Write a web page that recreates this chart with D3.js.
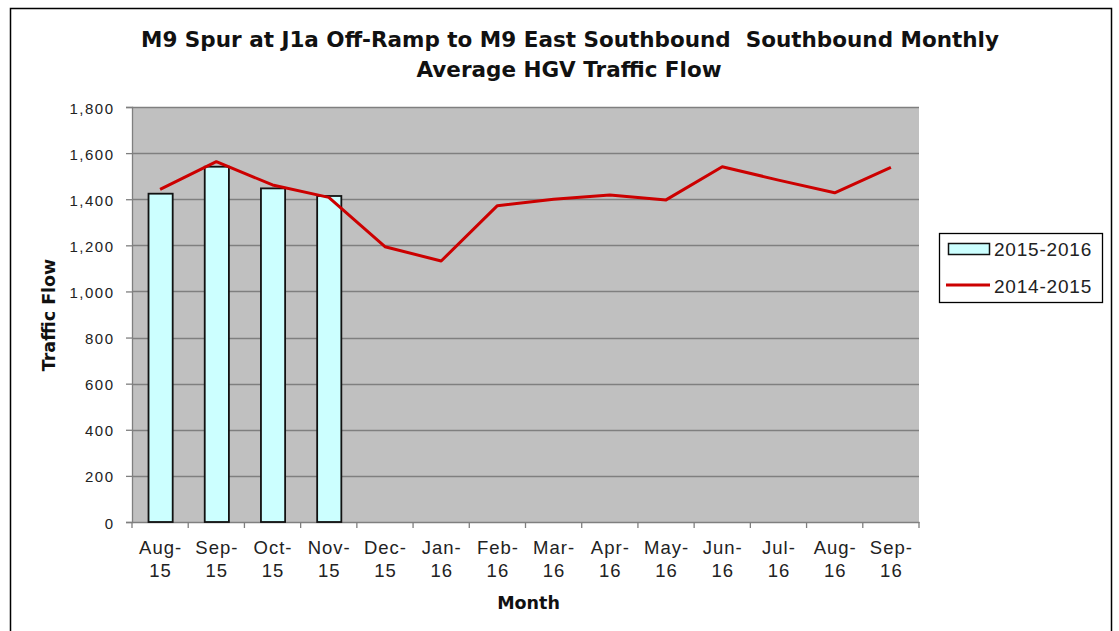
<!DOCTYPE html>
<html><head><meta charset="utf-8">
<script src="https://cdn.jsdelivr.net/npm/d3@7"></script>
<style>body{margin:0;background:#fff}svg{display:block}</style>
</head><body>
<script>
const months = ["Aug-15","Sep-15","Oct-15","Nov-15","Dec-15","Jan-16","Feb-16","Mar-16","Apr-16","May-16","Jun-16","Jul-16","Aug-16","Sep-16"];
const flow2015_2016 = [1424, 1541, 1447, 1414];
const flow2014_2015 = [1443, 1563, 1462, 1408, 1194, 1132, 1372, 1400, 1418, 1397, 1541, 1483, 1428, 1538];
const yTicks = [0, 200, 400, 600, 800, 1000, 1200, 1400, 1600, 1800];
const seriesNames = ["2015-2016", "2014-2015"];

const W = 1119, H = 631;
const svg = d3.select("body").append("svg").attr("width", W).attr("height", H);
const font = "Arial, 'Liberation Sans', sans-serif";
const bfont = "'DejaVu Sans', Verdana, sans-serif";

svg.append("rect").attr("x", 10.5).attr("y", 8.5).attr("width", 1101).attr("height", 640)
  .attr("fill", "#fff").attr("stroke", "#000").attr("stroke-width", 1.5);

const pL = 132, pR = 919, pT = 107, pB = 522;
const x = d3.scaleBand().domain(months).range([pL, pR]);
const y = d3.scaleLinear().domain([0, 1800]).range([pB, pT]);

svg.append("rect").attr("x", pL).attr("y", pT).attr("width", pR - pL).attr("height", pB - pT)
  .attr("fill", "#c0c0c0");

svg.append("g").selectAll("line").data(yTicks.filter(d => d > 0)).join("line")
  .attr("x1", pL).attr("x2", pR).attr("y1", d => Math.round(y(d)) + 0.5).attr("y2", d => Math.round(y(d)) + 0.5)
  .attr("stroke", "#7f7f7f").attr("stroke-width", 1.3);

// y axis
const ya = svg.append("g").attr("transform", `translate(${pL},0)`)
  .call(d3.axisLeft(y).tickValues(yTicks).tickSize(6).tickPadding(11.5).tickFormat(d3.format(",")));
ya.select(".domain").attr("stroke", "#7f7f7f").attr("stroke-width", 1.3);
ya.selectAll(".tick line").attr("stroke", "#7f7f7f").attr("stroke-width", 1.3);
ya.selectAll("text").attr("font-family", font).attr("font-size", 15).attr("letter-spacing", 1.5)
  .attr("fill", "#222").attr("dy", "0.4em");

// x axis
const xa = svg.append("g").attr("transform", `translate(0,${pB})`)
  .call(d3.axisBottom(x).tickSize(0).tickFormat(""));
xa.select(".domain").attr("stroke", "#7f7f7f").attr("stroke-width", 1.3);
svg.append("g").selectAll("line").data(d3.range(months.length + 1)).join("line")
  .attr("x1", i => pL + i * x.step()).attr("x2", i => pL + i * x.step())
  .attr("y1", pB).attr("y2", pB + 6).attr("stroke", "#7f7f7f").attr("stroke-width", 1.3);

const xl = svg.append("g").selectAll("text").data(months).join("text")
  .attr("font-family", font).attr("font-size", 18.5).attr("letter-spacing", 1).attr("fill", "#222").attr("text-anchor", "middle")
  .attr("transform", d => `translate(${x(d) + x.bandwidth() / 2 + 0.5},${pB + 32})`);
xl.append("tspan").attr("x", 0).attr("y", 0).text(d => d.split("-")[0] + "-");
xl.append("tspan").attr("x", 0).attr("y", 23).text(d => d.split("-")[1]);

// bars
const bw = x.bandwidth() * 0.43;
svg.append("g").selectAll("rect").data(flow2015_2016).join("rect")
  .attr("x", (d, i) => x(months[i]) + x.bandwidth() / 2 - bw / 2 + 0.5)
  .attr("y", d => y(d)).attr("width", bw).attr("height", d => pB - y(d))
  .attr("fill", "#ccffff").attr("stroke", "#111").attr("stroke-width", 1.8);

// line
const line = d3.line().x((d, i) => x(months[i]) + x.bandwidth() / 2).y(d => y(d));
svg.append("path").datum(flow2014_2015).attr("d", line)
  .attr("fill", "none").attr("stroke", "#cc0000").attr("stroke-width", 3).attr("stroke-linejoin", "round");

// title
const title = svg.append("text").attr("font-family", bfont).attr("font-size", 21.5).attr("font-weight", "bold")
  .attr("text-anchor", "middle").attr("fill", "#111").style("white-space", "pre");
title.append("tspan").attr("x", 570).attr("y", 47).text("M9 Spur at J1a Off-Ramp to M9 East Southbound  Southbound Monthly");
title.append("tspan").attr("x", 569).attr("y", 77).text("Average HGV Traffic Flow");

svg.append("text").attr("font-family", bfont).attr("font-size", 17.5).attr("font-weight", "bold").attr("fill", "#111")
  .attr("text-anchor", "middle").attr("x", 528.5).attr("y", 609).text("Month");
svg.append("text").attr("font-family", bfont).attr("font-size", 17.5).attr("font-weight", "bold").attr("fill", "#111")
  .attr("text-anchor", "middle").attr("transform", "translate(55,315) rotate(-90)").text("Traffic Flow");

// legend
const lg = svg.append("g");
lg.append("rect").attr("x", 939.5).attr("y", 233.5).attr("width", 163).attr("height", 69)
  .attr("fill", "#fff").attr("stroke", "#000").attr("stroke-width", 1.3);
lg.append("rect").attr("x", 948.5).attr("y", 243.5).attr("width", 41).attr("height", 11)
  .attr("fill", "#ccffff").attr("stroke", "#111").attr("stroke-width", 1.5);
lg.append("line").attr("x1", 946).attr("x2", 990).attr("y1", 285).attr("y2", 285)
  .attr("stroke", "#cc0000").attr("stroke-width", 3);
lg.selectAll("text").data(seriesNames).join("text")
  .attr("x", 994).attr("y", (d, i) => 256 + i * 37)
  .attr("font-family", font).attr("font-size", 19).attr("letter-spacing", 0.8).attr("fill", "#222").text(d => d);
</script>
</body></html>
